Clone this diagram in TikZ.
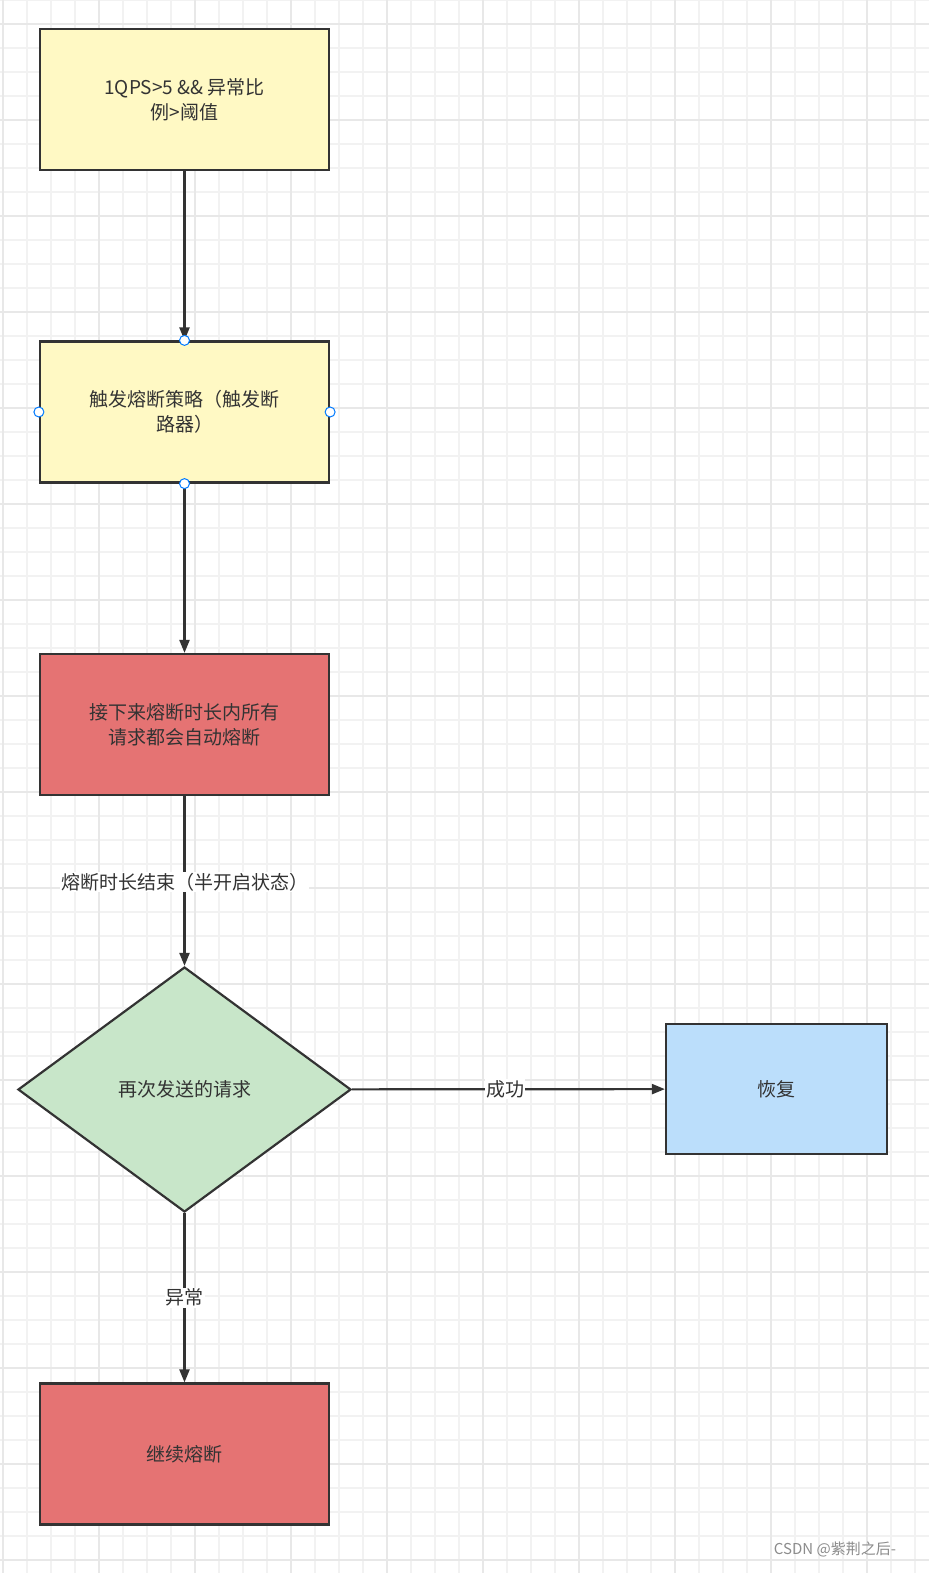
\documentclass[tikz,border=0pt]{standalone}
\usepackage{fontspec}
\setmainfont{Noto Sans CJK SC}
\usetikzlibrary{shapes.geometric,arrows.meta}
\definecolor{yel}{HTML}{FFF9C4}
\definecolor{redb}{HTML}{E57373}
\definecolor{grn}{HTML}{C8E6C9}
\definecolor{blu}{HTML}{BBDEFB}
\definecolor{edge}{HTML}{333333}
\begin{document}
\begin{tikzpicture}[x=1pt,y=-1pt,
  box/.style={draw=edge,line width=2.2pt,minimum width=289pt,minimum height=141pt,align=center,font=\fontsize{19}{25}\selectfont,text=edge,inner sep=2pt},
  arr/.style={draw=edge,line width=2.2pt,-{Triangle[length=13pt,width=10pt]}},
  lab/.style={fill=white,font=\fontsize{19}{24}\selectfont,text=edge,inner sep=1pt},
  hnd/.style={circle,draw={rgb,255:red,0;green,122;blue,255},fill=white,line width=1pt,minimum size=10pt,inner sep=0pt}]
\useasboundingbox (0,0) rectangle (929,1573);
\fill[white] (0,0) rectangle (929,1573);
\foreach \x in {3,27,...,929} \draw[black!5,line width=1.2pt] (\x,0) -- (\x,1573);
\foreach \y in {0,24,...,1573} \draw[black!5,line width=1.2pt] (0,\y) -- (929,\y);
\foreach \x in {3,99,...,929} \draw[black!9,line width=1.5pt] (\x,0) -- (\x,1573);
\foreach \y in {24,120,...,1573} \draw[black!9,line width=1.5pt] (0,\y) -- (929,\y);
\node[box,fill=yel] (a) at (184.5,99.5) {1QPS>5 \&\& 异常比\\例>阈值};
\node[box,fill=yel] (b) at (184.5,412) {触发熔断策略（触发断\\路器）};
\node[box,fill=redb] (c) at (184.5,724.5) {接下来熔断时长内所有\\请求都会自动熔断};
\node[draw=edge,fill=grn,line width=2.2pt,diamond,minimum width=333pt,minimum height=245pt,inner sep=0pt,font=\fontsize{19}{25}\selectfont,text=edge] (d) at (184.5,1089.5) {再次发送的请求};
\node[box,fill=blu,minimum width=221pt,minimum height=130pt] (e) at (776.5,1089) {恢复};
\node[box,fill=redb] (f) at (184.5,1454) {继续熔断};
\draw[arr] (a) -- (b);
\draw[arr] (b) -- (c);
\draw[arr] (c) -- node[lab,pos=0.5,yshift=-1pt]{熔断时长结束（半开启状态）} (d);
\draw[arr] (d) -- node[lab,pos=0.49]{成功} (e);
\draw[arr] (d) -- node[lab,pos=0.5]{异常} (f);
\node[hnd] (h1) at (b.north) {};
\node[hnd] (h2) at (b.south) {};
\node[hnd] (h3) at (b.west) {};
\node[hnd] (h4) at (b.east) {};
\node[font=\fontsize{15}{18}\selectfont,text=black!45,inner sep=0pt] (w) at (835,1549) {CSDN @紫荆之后-};
\end{tikzpicture}
\end{document}
